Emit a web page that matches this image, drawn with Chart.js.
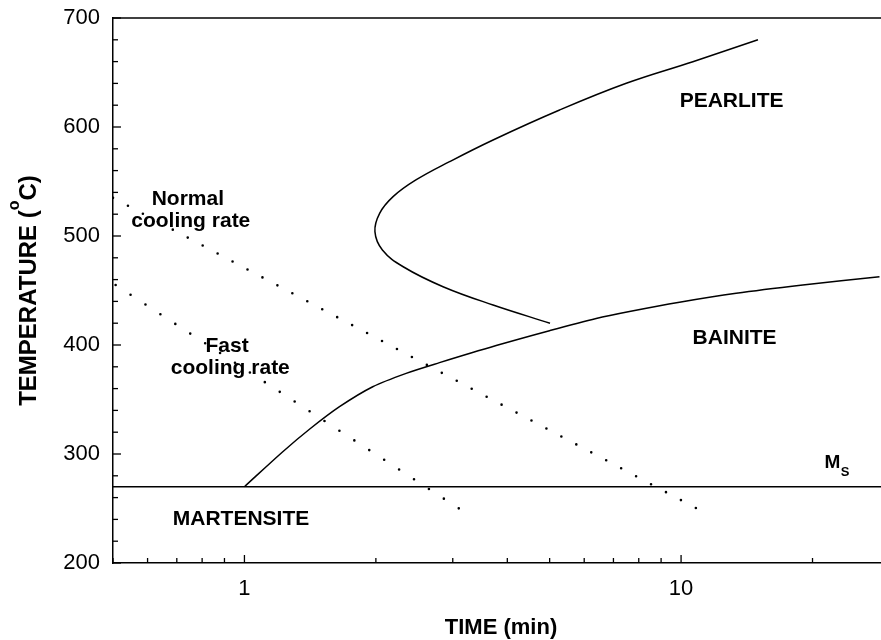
<!DOCTYPE html>
<html><head><meta charset="utf-8">
<script src="https://cdn.jsdelivr.net/npm/chart.js@4.4.0/dist/chart.umd.min.js"></script>
<style>html,body{margin:0;padding:0;background:#fff}#wrap{width:881px;height:640px}</style>
</head><body><div id="wrap"><canvas id="c"></canvas></div>
<script>
// ---- data ----
const xTickValues = [0.5,0.6,0.7,0.8,0.9,1,2,3,4,5,6,7,8,9,10,20];
const xTickLabels = {1:'1', 10:'10'};
const yMin = 200, yMax = 700, yStep = 20, yLabelStep = 100;
const xMin = 0.5, xMax = 28.7;

const pearliteTime = [5.01,3.71,2.85,2.31,2.07,1.99,2.04,2.19,2.47,2.95,3.71,5.27,7.49,10.64,15.0];
const pearliteTemp = [420,436.7,453.5,471.8,487.2,504,520.8,536.1,551.4,568.2,588.1,615.6,640.1,659.9,680];
const bainiteTime = [1.0,1.224,1.409,1.651,1.967,2.346,2.797,3.772,4.995,6.391,7.618,9.916,13.37,19.0,28.47];
const bainiteTemp = [270,302.1,322.7,343.4,361.7,374,383.8,399.5,413.1,424.3,430.7,439.2,447.4,455,462.7];
const msTime = [0.5, 28.7];
const msTemp = [270, 270];
const normalTime = [0.5, 10.86];
const normalTemp = [535, 250];
const fastTime = [0.507, 3.1];
const fastTemp = [455, 250];

const labelText = ['PEARLITE','BAINITE','MARTENSITE','Normal','cooling rate','Fast','cooling rate'];
const labelTime = [13.05, 13.26, 0.982, 0.742, 0.7536, 0.9126, 0.9281];
const labelTemp = [623.4, 406.0, 240.4, 534.2, 513.3, 399.3, 378.9];
const msLabelTime = 21.3, msLabelTemp = 286.9;

const FONT = '"Liberation Sans", Arial, Helvetica, sans-serif';
const xy = (xs, ys) => xs.map((v, i) => ({x: v, y: ys[i]}));

const deco = {
  id: 'deco',
  afterDraw(chart) {
    const {ctx, chartArea: a, scales: {x, y}} = chart;
    ctx.save();
    ctx.strokeStyle = '#000';
    ctx.fillStyle = '#000';
    ctx.lineWidth = 1.5;
    ctx.beginPath(); ctx.moveTo(a.left, a.top); ctx.lineTo(a.right, a.top); ctx.stroke();
    ctx.lineWidth = 1.3;
    x.ticks.forEach(t => {
      const px = x.getPixelForValue(t.value);
      const len = (t.value === 1 || t.value === 10) ? 8 : 5;
      ctx.beginPath(); ctx.moveTo(px, a.bottom); ctx.lineTo(px, a.bottom - len); ctx.stroke();
    });
    y.ticks.forEach(t => {
      const py = y.getPixelForValue(t.value);
      const len = (t.value % yLabelStep === 0) ? 8 : 5;
      ctx.beginPath(); ctx.moveTo(a.left, py); ctx.lineTo(a.left + len, py); ctx.stroke();
    });
    // region labels
    ctx.font = 'bold 21px ' + FONT;
    ctx.textAlign = 'center';
    ctx.textBaseline = 'middle';
    labelText.forEach((s, i) => {
      ctx.fillText(s, x.getPixelForValue(labelTime[i]), y.getPixelForValue(labelTemp[i]));
    });
    // M_S
    ctx.textAlign = 'left';
    ctx.textBaseline = 'alphabetic';
    const mx = x.getPixelForValue(msLabelTime), my = y.getPixelForValue(msLabelTemp);
    ctx.font = 'bold 19px ' + FONT;
    ctx.fillText('M', mx, my);
    const mw = ctx.measureText('M').width;
    ctx.font = 'bold 13px ' + FONT;
    ctx.fillText('S', mx + mw + 0.5, my + 8);
    // x title
    ctx.font = 'bold 22px ' + FONT;
    ctx.textAlign = 'center';
    ctx.fillText('TIME (min)', (a.left + a.right) / 2 + 4, a.bottom + 70.5);
    // y title with superscript
    ctx.translate(36, (a.top + a.bottom) / 2);
    ctx.rotate(-Math.PI / 2);
    ctx.textAlign = 'left';
    const f1 = 'bold 24px ' + FONT, f2 = 'bold 16px ' + FONT;
    ctx.font = f1; const w1 = ctx.measureText('TEMPERATURE (').width; const w3 = ctx.measureText('C)').width;
    ctx.font = f2; const w2 = ctx.measureText('o').width;
    let sx = -(w1 + w2 + w3) / 2;
    ctx.font = f1; ctx.fillText('TEMPERATURE (', sx, 0); sx += w1;
    ctx.font = f2; ctx.fillText('o', sx, -17); sx += w2;
    ctx.font = f1; ctx.fillText('C)', sx, 0);
    ctx.restore();
  }
};

const solid = {borderColor: '#000', borderWidth: 1.5, pointRadius: 0, showLine: true, fill: false};
new Chart(document.getElementById('c'), {
  type: 'scatter',
  data: {
    datasets: [
      Object.assign({label: 'Pearlite', data: xy(pearliteTime, pearliteTemp), tension: 0.4}, solid),
      Object.assign({label: 'Bainite', data: xy(bainiteTime, bainiteTemp), tension: 0.3}, solid),
      Object.assign({label: 'Ms', data: xy(msTime, msTemp), tension: 0}, solid),
      {label: 'Normal cooling rate', data: xy(normalTime, normalTemp), showLine: true, pointRadius: 0,
       borderColor: '#000', borderWidth: 2.6, borderDash: [0, 16.93], borderCapStyle: 'round', tension: 0},
      {label: 'Fast cooling rate', data: xy(fastTime, fastTemp), showLine: true, pointRadius: 0,
       borderColor: '#000', borderWidth: 2.6, borderDash: [0, 17.8], borderCapStyle: 'round', tension: 0}
    ]
  },
  options: {
    responsive: true, maintainAspectRatio: false, animation: false,
    layout: {padding: {top: 18, left: 0, right: 0, bottom: 0}},
    plugins: {legend: {display: false}, tooltip: {enabled: false}},
    scales: {
      x: {
        type: 'logarithmic', min: xMin, max: xMax,
        afterBuildTicks: s => { s.ticks = xTickValues.map(v => ({value: v})); },
        afterFit: s => { s.height = 77; s.paddingLeft = 0; s.paddingRight = 0; },
        ticks: {autoSkip: false, maxRotation: 0, minRotation: 0, padding: 13, color: '#000',
                font: {family: FONT, size: 22}, callback: v => (xTickLabels[v] !== undefined ? xTickLabels[v] : '')},
        grid: {display: false, drawTicks: false},
        border: {display: true, color: '#000', width: 1.5}
      },
      y: {
        type: 'linear', min: yMin, max: yMax,
        afterFit: s => { s.width = 113; s.paddingTop = 0; s.paddingBottom = 0; },
        ticks: {stepSize: yStep, autoSkip: false, padding: 13, color: '#000',
                font: {family: FONT, size: 22}, callback: v => (v % yLabelStep === 0 ? String(v) : '')},
        grid: {display: false, drawTicks: false},
        border: {display: true, color: '#000', width: 1.5}
      }
    }
  },
  plugins: [deco]
});
</script>
</body></html>
